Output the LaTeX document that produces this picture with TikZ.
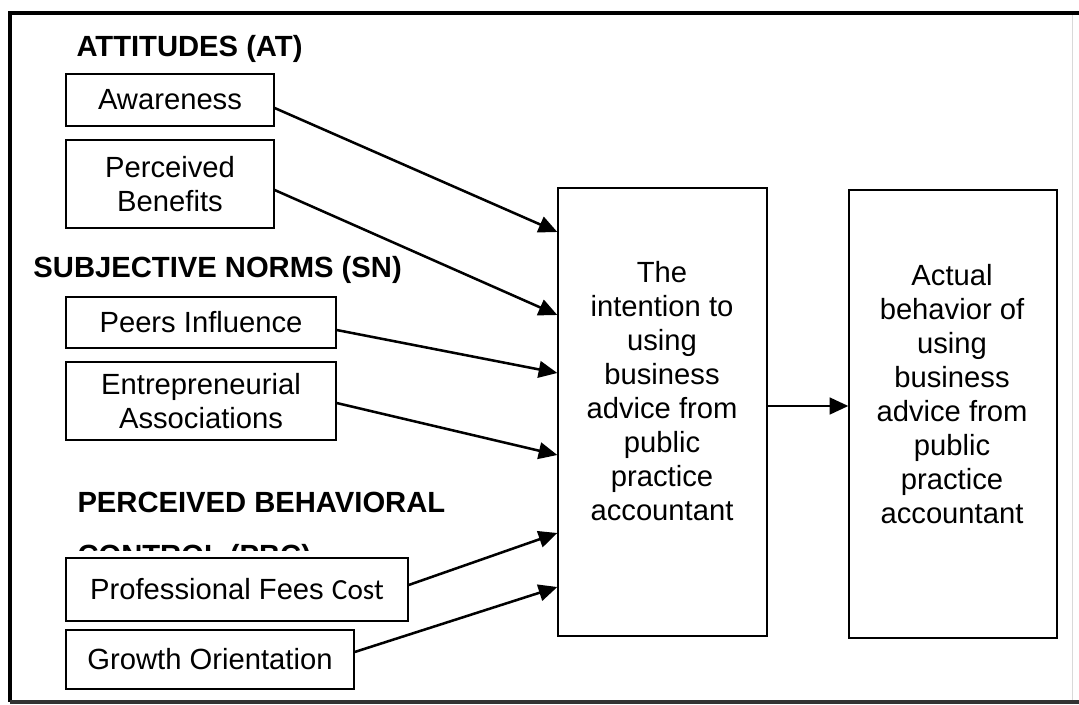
\documentclass[tikz,border=0pt]{standalone}
\usepackage{fontspec}
\setmainfont{Liberation Sans}
\newfontfamily\carlito{Carlito}
\usetikzlibrary{arrows.meta}

\newcommand{\txtsize}{\fontsize{21.9pt}{25.5pt}\selectfont}

\tikzset{every picture/.style={line width=0.75pt}}
\tikzset{
  factorbox/.style={draw, line width=1pt, inner sep=0pt, align=center, font=\txtsize},
  heading/.style={font=\txtsize\bfseries, inner sep=0pt, anchor=base west},
  plaintext/.style={inner sep=0pt, align=center, font=\txtsize},
  arr/.style={-{Triangle[length=14pt,width=12.5pt]}, line width=1.9pt}
}

\begin{document}
\begin{tikzpicture}[x=0.75pt,y=0.75pt,yscale=-1,xscale=1]
\useasboundingbox (0,0) rectangle (1079,704);

% Frame
\draw[line width=2.4pt] (1079,13) -- (10,13) -- (10,702);
\draw[line width=2.4pt, black!80] (10,702) -- (1079,702);
\draw[line width=0.6pt, black!15] (1072,15) -- (1072,700);

% Headings
\node[heading] (hAT) at (76,56) {ATTITUDES (AT)};
\node[heading] (hSN) at (33,277) {SUBJECTIVE NORMS (SN)};
\node[heading] (hPBC) at (77,512) {PERCEIVED BEHAVIORAL};
\begin{scope}
  \clip (60,530) rectangle (470,550);
  \node[heading] (hPBCb) at (77,565) {CONTROL (PBC)};
\end{scope}

% Factor boxes (sizes in pt = px*0.75)
\node[factorbox, minimum width=156pt, minimum height=39pt] (aware) at (170,100) {Awareness};
\node[factorbox, minimum width=156pt, minimum height=66pt] (benef) at (170,184) {Perceived\\Benefits};
\node[factorbox, minimum width=202.5pt, minimum height=38.25pt] (peers) at (201,322.5) {Peers Influence};
\node[factorbox, minimum width=202.5pt, minimum height=58.5pt] (assoc) at (201,401) {Entrepreneurial\\Associations};
\node[factorbox, minimum width=256.5pt, minimum height=47.25pt] (fees) at (237,589.5) {Professional Fees {\carlito Cost}};
\node[factorbox, minimum width=216pt, minimum height=44.25pt] (growth) at (210,659.5) {Growth Orientation};

% Outcome boxes
\node[factorbox, minimum width=156.75pt, minimum height=336pt] (intent) at (662.5,412) {};
\node[plaintext] (intentTxt) at (662,391) {The\\intention to\\using\\business\\advice from\\public\\practice\\accountant};
\node[factorbox, minimum width=156pt, minimum height=336pt] (actual) at (953,414) {};
\node[plaintext] (actualTxt) at (952,394) {Actual\\behavior of\\using\\business\\advice from\\public\\practice\\accountant};

% Connection levels
\coordinate (yA) at (0,108);  \coordinate (tA) at (0,232);
\coordinate (yB) at (0,190);  \coordinate (tB) at (0,315);
\coordinate (yC) at (0,330);  \coordinate (tC) at (0,373);
\coordinate (yD) at (0,403);  \coordinate (tD) at (0,455);
\coordinate (yE) at (0,585);  \coordinate (tE) at (0,533);
\coordinate (yF) at (0,652);  \coordinate (tF) at (0,587);
\coordinate (yM) at (0,406);

% Connections
\draw[arr] (aware.east |- yA) -- (intent.west |- tA);
\draw[arr] (benef.east |- yB) -- (intent.west |- tB);
\draw[arr] (peers.east |- yC) -- (intent.west |- tC);
\draw[arr] (assoc.east |- yD) -- (intent.west |- tD);
\draw[arr] (fees.east |- yE) -- (intent.west |- tE);
\draw[arr] (growth.east |- yF) -- (intent.west |- tF);
\draw[arr] (intent.east |- yM) -- (actual.west |- yM);

\end{tikzpicture}
\end{document}
